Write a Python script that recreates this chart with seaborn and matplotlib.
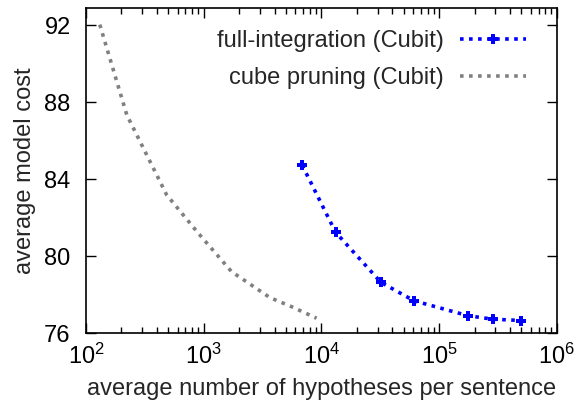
import pandas as pd
import seaborn as sns
import matplotlib
matplotlib.use("Agg")
import matplotlib.pyplot as plt
from matplotlib.ticker import LogLocator, FixedLocator

# full-integration (Cubit)
full_hyp = [6870, 13200, 32000, 61000, 176000, 285000, 500000]
full_cost = [84.73, 81.24, 78.64, 77.68, 76.90, 76.72, 76.65]

# cube pruning (Cubit)
cube_hyp = [131, 222, 484, 900, 1726, 3657, 5580, 9100]
cube_cost = [92.04, 87.35, 83.19, 81.19, 79.19, 77.84, 77.37, 76.77]

y_ticks = [76, 80, 84, 88, 92]

full_df = pd.DataFrame({"hyp": full_hyp, "cost": full_cost})
cube_df = pd.DataFrame({"hyp": cube_hyp, "cost": cube_cost})

sns.set_style("ticks")
plt.rcParams['font.family'] = ['Liberation Sans', 'DejaVu Sans']

fig = plt.figure(figsize=(5.77, 4.04), dpi=100)
ax = fig.add_axes([0.149, 0.1757, 0.816, 0.8043])

sns.lineplot(data=full_df, x="hyp", y="cost", ax=ax, color="#0000ff",
             linestyle=(0, (1, 1.5)), linewidth=2.6, marker="P", markersize=6.5,
             markeredgewidth=0, label="full-integration (Cubit)")
sns.lineplot(data=cube_df, x="hyp", y="cost", ax=ax, color="#808080",
             linestyle=(0, (1, 1.5)), linewidth=2.6,
             label="cube pruning (Cubit)")

ax.set_xscale("log")
ax.set_xlim(1e2, 1e6)
ax.set_ylim(76, 92.9)
ax.yaxis.set_major_locator(FixedLocator(y_ticks))
ax.xaxis.set_major_locator(LogLocator(base=10, numticks=10))
ax.xaxis.set_minor_locator(LogLocator(base=10, subs=range(2, 10), numticks=50))

ax.tick_params(which="both", direction="in", top=True, right=True,
               labelsize=17, colors="black", width=1)
ax.tick_params(which="major", length=7)
ax.tick_params(which="minor", length=4)
ax.tick_params(axis="x", which="major", pad=8)
ax.tick_params(axis="y", which="major", pad=11)
for s in ax.spines.values():
    s.set_linewidth(1.2)
    s.set_color("black")

ax.set_xlabel("average number of hypotheses per sentence", fontsize=17, labelpad=6)
ax.set_ylabel("average model cost", fontsize=17, labelpad=6)

ax.legend(loc="upper right", bbox_to_anchor=(0.989, 1.012), frameon=False,
          markerfirst=False, fontsize=17, handlelength=2.8, handletextpad=0.65,
          borderaxespad=0.7, labelspacing=0.62)

fig.savefig("out.png", dpi=100)
